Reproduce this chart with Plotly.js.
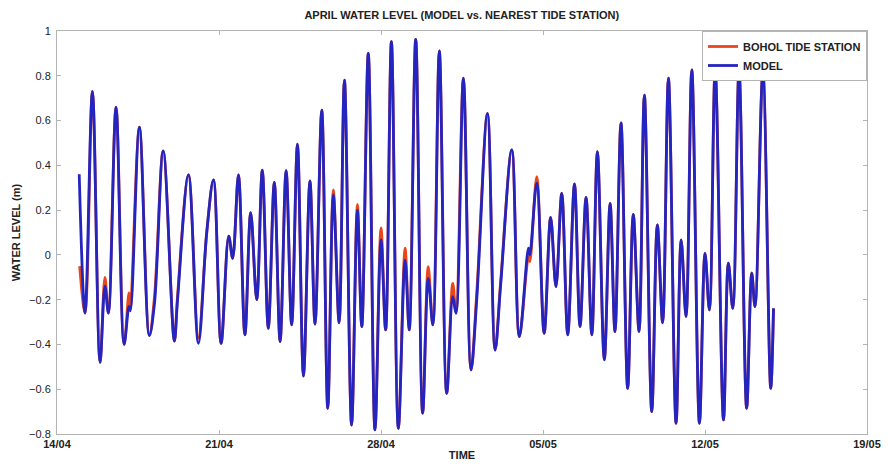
<!DOCTYPE html>
<html>
<head>
<meta charset="utf-8">
<script src="https://cdn.plot.ly/plotly-3.0.1.min.js"></script>
<style>html,body{margin:0;padding:0;background:#fff;}#chart{width:888px;height:468px;}</style>
</head>
<body>
<div id="chart"></div>
<script>
// time in days since 14/04 00:00
const modelDays = [0.96,1.21,1.53,1.86,2.07,2.22,2.55,2.90,3.11,3.17,3.56,3.99,4.21,4.59,5.07,5.21,5.68,6.11,6.47,6.76,7.09,7.42,7.59,7.84,8.12,8.37,8.63,8.87,9.13,9.39,9.64,9.90,10.14,10.39,10.65,10.93,11.15,11.44,11.70,11.94,12.19,12.42,12.73,12.98,13.17,13.45,13.74,14.00,14.20,14.45,14.75,15.04,15.22,15.50,15.80,16.04,16.24,16.52,16.84,17.10,17.24,17.56,17.89,18.14,18.60,18.93,19.17,19.65,19.98,20.37,20.43,20.73,21.05,21.33,21.56,21.81,22.07,22.36,22.60,22.86,23.11,23.35,23.65,23.90,24.11,24.37,24.66,24.90,25.15,25.38,25.70,25.94,26.17,26.42,26.75,26.97,27.18,27.43,27.76,28.00,28.19,28.44,28.80,29.01,29.20,29.47,29.80,30.02,30.16,30.50,30.84,30.96];
const modelLevel = [0.36,-0.26,0.73,-0.48,-0.14,-0.26,0.66,-0.40,-0.23,-0.25,0.57,-0.36,-0.22,0.465,-0.385,-0.20,0.357,-0.395,0.10,0.335,-0.395,0.084,-0.015,0.357,-0.357,0.189,-0.20,0.379,-0.328,0.324,-0.387,0.376,-0.313,0.495,-0.541,0.33,-0.309,0.647,-0.685,0.268,-0.303,0.781,-0.76,0.20,-0.32,0.90,-0.782,0.067,-0.335,0.952,-0.775,-0.023,-0.335,0.963,-0.707,-0.105,-0.313,0.911,-0.618,-0.187,-0.261,0.789,-0.514,-0.194,0.632,-0.425,-0.134,0.469,-0.365,0.03,0.0,0.32,-0.35,0.168,-0.142,0.275,-0.357,0.317,-0.32,0.257,-0.357,0.461,-0.469,0.23,-0.343,0.59,-0.596,0.181,-0.343,0.714,-0.70,0.134,-0.303,0.789,-0.752,0.067,-0.276,0.826,-0.752,0.007,-0.246,0.826,-0.737,-0.037,-0.239,0.826,-0.685,-0.082,-0.231,0.818,-0.596,-0.239];

const stationDays = [0.98,1.21,1.53,1.86,2.07,2.22,2.55,2.90,3.11,3.17,3.56,3.99,4.21,4.59,5.07,5.21,5.68,6.11,6.47,6.76,7.09,7.42,7.59,7.84,8.12,8.37,8.63,8.87,9.13,9.39,9.64,9.90,10.14,10.39,10.65,10.93,11.15,11.44,11.70,11.94,12.19,12.42,12.73,12.98,13.17,13.45,13.74,14.00,14.20,14.45,14.75,15.04,15.22,15.50,15.80,16.04,16.24,16.52,16.84,17.10,17.24,17.56,17.89,18.14,18.60,18.93,19.17,19.65,19.98,20.37,20.43,20.73,21.05,21.33,21.56,21.81,22.07,22.36,22.60,22.86,23.11,23.35,23.65,23.90,24.11,24.37,24.66,24.90,25.15,25.38,25.70,25.94,26.17,26.42,26.75,26.97,27.18,27.43,27.76,28.00,28.19,28.44,28.80,29.01,29.20,29.47,29.80,30.02,30.16,30.50,30.84,30.96];
const stationLevel = [-0.05,-0.26,0.73,-0.48,-0.10,-0.26,0.66,-0.40,-0.17,-0.24,0.57,-0.36,-0.19,0.465,-0.385,-0.18,0.357,-0.37,0.10,0.335,-0.395,0.084,-0.015,0.357,-0.357,0.189,-0.20,0.379,-0.328,0.324,-0.387,0.376,-0.313,0.495,-0.541,0.33,-0.309,0.647,-0.685,0.29,-0.303,0.781,-0.76,0.225,-0.32,0.90,-0.782,0.12,-0.335,0.952,-0.775,0.03,-0.335,0.963,-0.707,-0.053,-0.313,0.911,-0.618,-0.127,-0.255,0.789,-0.514,-0.164,0.632,-0.425,-0.12,0.469,-0.365,-0.01,-0.03,0.349,-0.35,0.168,-0.142,0.275,-0.357,0.317,-0.32,0.257,-0.357,0.461,-0.469,0.23,-0.343,0.59,-0.596,0.181,-0.343,0.714,-0.70,0.134,-0.303,0.789,-0.752,0.067,-0.276,0.826,-0.752,0.007,-0.246,0.826,-0.737,-0.037,-0.239,0.826,-0.685,-0.08,-0.231,0.818,-0.596,-0.239];

const tickDates = ['2014-04-14','2014-04-21','2014-04-28','2014-05-05','2014-05-12','2014-05-19'];
const tickLabels = ['14/04','21/04','28/04','05/05','12/05','19/05'];

const base = Date.UTC(2014,3,14);
function toDate(d){ return new Date(base + d*86400000).toISOString().slice(0,19).replace('T',' '); }

const FONT = 'Liberation Sans, Arial, sans-serif';

const traces = [
  {x: stationDays.map(toDate), y: stationLevel, type:'scatter', mode:'lines', name:'BOHOL TIDE STATION',
   line:{color:'#e8471e', width:2.8, shape:'spline', smoothing:1}},
  {x: modelDays.map(toDate), y: modelLevel, type:'scatter', mode:'lines', name:'MODEL',
   line:{color:'#2424c0', width:2.8, shape:'spline', smoothing:1}}
];

const layout = {
  width:888, height:468,
  margin:{l:57, r:21, t:31, b:34},
  paper_bgcolor:'#fff', plot_bgcolor:'#fff',
  font:{family:FONT, size:11, color:'#222'},
  title:{text:'<b>APRIL WATER LEVEL (MODEL vs. NEAREST TIDE STATION)</b>', x:0.52, xanchor:'center', y:0.968, yanchor:'middle',
         font:{family:FONT, size:11, color:'#222'}},
  xaxis:{type:'date', range:['2014-04-14','2014-05-19'], tickmode:'array', tickvals:tickDates, ticktext:tickLabels,
         showgrid:false, zeroline:false, showline:true, mirror:'ticks', linecolor:'#b4b4b4', linewidth:1,
         ticks:'inside', ticklen:4, tickcolor:'#b4b4b4',
         tickfont:{family:FONT, size:11, color:'#222', weight:'bold'},
         title:{text:'<b>TIME</b>', standoff:2, font:{family:FONT, size:11, color:'#222'}}},
  yaxis:{range:[-0.8,1], dtick:0.2, tick0:0, showgrid:false, zeroline:false, showline:true, mirror:'ticks',
         linecolor:'#b4b4b4', linewidth:1, ticks:'inside', ticklen:4, tickcolor:'#b4b4b4',
         tickfont:{family:FONT, size:11, color:'#222'}, ticklabelstandoff:3,
         title:{text:'<b>WATER LEVEL (m)</b>', standoff:6, font:{family:FONT, size:11, color:'#222'}}},
  legend:{x:1, xanchor:'right', y:1, yanchor:'top', bgcolor:'#fff', bordercolor:'#b4b4b4', borderwidth:1,
          font:{family:FONT, size:11, color:'#222', weight:'bold'}, tracegroupgap:0, itemwidth:30},
  showlegend:true
};

Plotly.newPlot('chart', traces, layout, {staticPlot:true, displayModeBar:false});
</script>
</body>
</html>
